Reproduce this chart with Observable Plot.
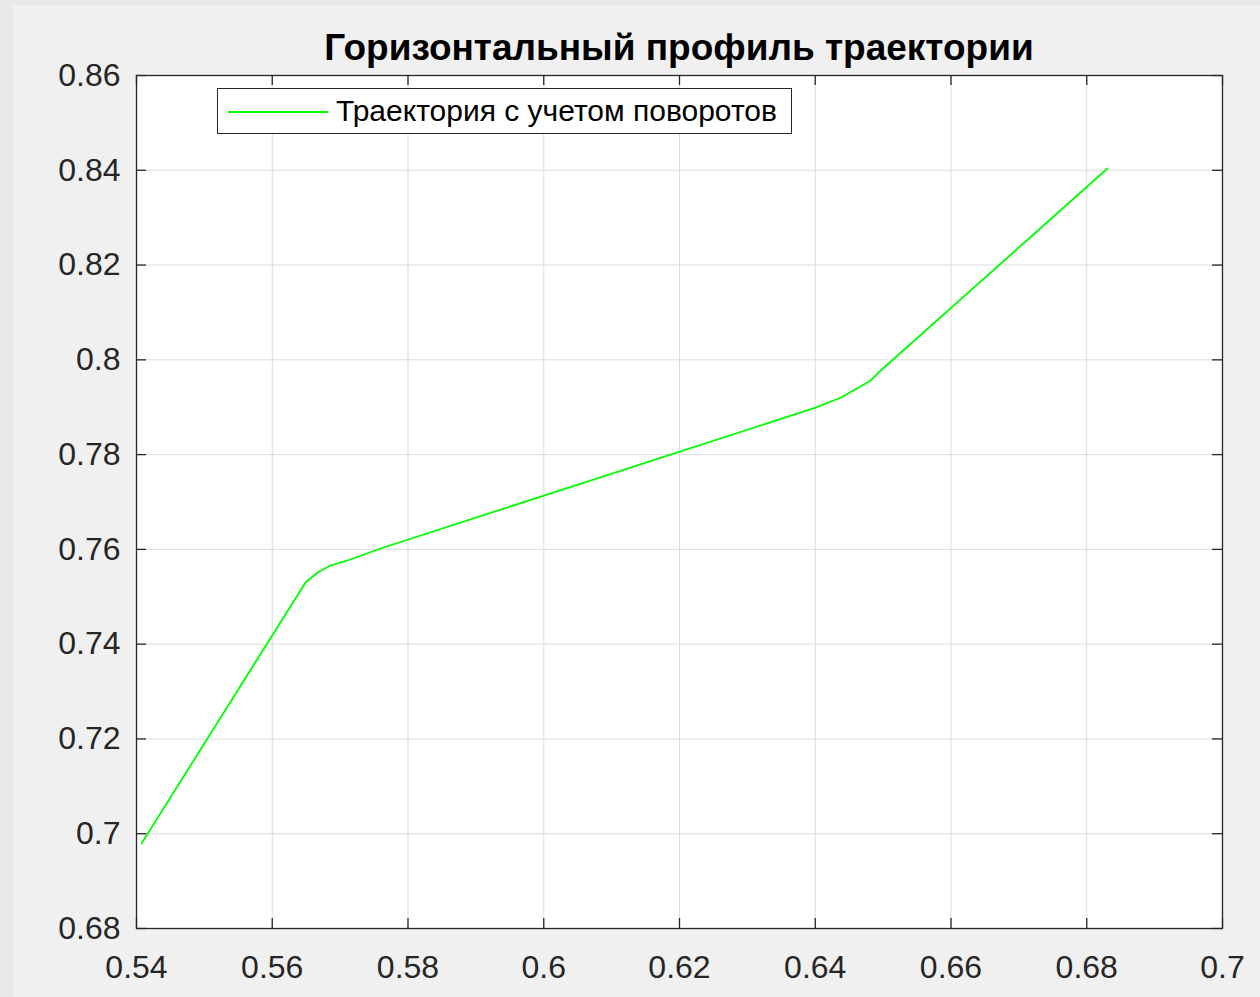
<!DOCTYPE html>
<html>
<head>
<meta charset="utf-8">
<script src="https://cdn.jsdelivr.net/npm/d3@7"></script>
<script src="https://cdn.jsdelivr.net/npm/@observablehq/plot@0.6"></script>
<style>
  html, body { margin: 0; padding: 0; }
  body { width: 1260px; height: 997px; background: #e9e9e9; position: relative; overflow: hidden; font-family: "Liberation Sans", Arial, sans-serif; }
  #panel { position: absolute; left: 13px; top: 5px; width: 1247px; height: 992px; background: #f0f0f0; }
  #chart { position: absolute; left: 0; top: 0; }
  #title { position: absolute; left: 136px; width: 1086px; top: 28px; text-align: center; font-weight: bold; font-size: 37px; color: #000; line-height: 40px; white-space: nowrap; }
  #legend { position: absolute; left: 217px; top: 88px; width: 573px; height: 44px; background: #fff; border: 1px solid #262626; }
  #legend .sw { position: absolute; left: 10px; top: 22px; width: 100px; height: 0; border-top: 2px solid #00ff00; }
  #legend .lb { position: absolute; left: 118px; top: 5px; font-size: 30px; line-height: 34px; color: #000; white-space: nowrap; }
</style>
</head>
<body>
<div id="panel"></div>
<div id="chart"></div>
<div id="title">Горизонтальный профиль траектории</div>
<div id="legend"><div class="sw"></div><div class="lb">Траектория с учетом поворотов</div></div>
<script>
const xs = [0.54074, 0.56490, 0.56667, 0.56858, 0.57109, 0.57595, 0.64004, 0.64372, 0.64814, 0.64961, 0.68306];
const ys = [0.69794, 0.75301, 0.75512, 0.75660, 0.75766, 0.76019, 0.78990, 0.79200, 0.79560, 0.79770, 0.84037];
const xTicks = [0.54, 0.56, 0.58, 0.6, 0.62, 0.64, 0.66, 0.68, 0.7];
const yTicks = [0.68, 0.7, 0.72, 0.74, 0.76, 0.78, 0.8, 0.82, 0.84, 0.86];
const xLabels = ["0.54", "0.56", "0.58", "0.6", "0.62", "0.64", "0.66", "0.68", "0.7"];
const yLabels = ["0.68", "0.7", "0.72", "0.74", "0.76", "0.78", "0.8", "0.82", "0.84", "0.86"];

const data = xs.map((x, i) => ({x, y: ys[i]}));
const W = 1260, H = 997;
const mL = 136, mR = 38, mT = 75, mB = 69;
const pw = W - mL - mR, ph = H - mT - mB;
const tickLen = 10;
const axisColor = "#262626";

const chart = Plot.plot({
  width: W, height: H,
  marginLeft: mL, marginRight: mR, marginTop: mT, marginBottom: mB,
  style: { background: "transparent", fontFamily: "'Liberation Sans', Arial, sans-serif", fontSize: "32px", color: axisColor },
  x: { domain: [0.54, 0.7] },
  y: { domain: [0.68, 0.86] },
  marks: [
    Plot.frame({ fill: "white" }),
    Plot.gridX(xTicks, { stroke: "#dcdcdc", strokeOpacity: 1, strokeWidth: 1 }),
    Plot.gridY(yTicks, { stroke: "#dcdcdc", strokeOpacity: 1, strokeWidth: 1 }),
    Plot.axisX(xTicks, { tickSize: 0, tickPadding: 27, tickFormat: (d, i) => xLabels[i], fontSize: 32, fill: axisColor, label: null }),
    Plot.axisY(yTicks, { tickSize: 0, tickPadding: 16, tickFormat: (d, i) => yLabels[i], fontSize: 32, fill: axisColor, label: null }),
    Plot.tickX(xTicks, { x: d => d, stroke: axisColor, strokeWidth: 1.3, insetTop: ph - tickLen }),
    Plot.tickX(xTicks, { x: d => d, stroke: axisColor, strokeWidth: 1.3, insetBottom: ph - tickLen }),
    Plot.tickY(yTicks, { y: d => d, stroke: axisColor, strokeWidth: 1.3, insetRight: pw - tickLen }),
    Plot.tickY(yTicks, { y: d => d, stroke: axisColor, strokeWidth: 1.3, insetLeft: pw - tickLen }),
    Plot.line(data, { x: "x", y: "y", stroke: "#00ff00", strokeWidth: 1.8, strokeLinejoin: "round" }),
    Plot.frame({ stroke: axisColor, strokeWidth: 1.3 })
  ]
});
document.getElementById("chart").appendChild(chart);
</script>
</body>
</html>
